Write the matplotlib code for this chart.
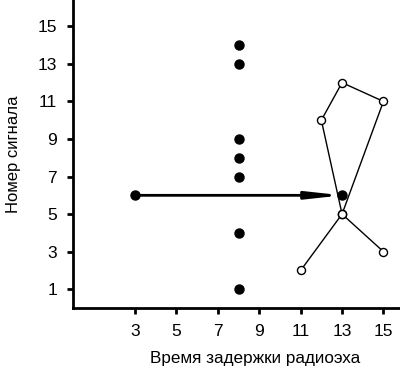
import matplotlib.pyplot as plt

plt.rcParams['font.family'] = ['Liberation Sans', 'DejaVu Sans']

# filled points (радиоэхо)
fill_x = [8, 8, 8, 8, 8, 8, 8, 3, 13]
fill_y = [1, 4, 7, 8, 9, 13, 14, 6, 6]

# open circles, two connected paths
path1_x = [11, 13, 15]
path1_y = [2, 5, 3]
path2_x = [13, 12, 13, 15, 13]
path2_y = [5, 10, 12, 11, 5]

arrow_start = (3, 6)
arrow_end = (13, 6)

xticks = [3, 5, 7, 9, 11, 13, 15]
yticks = [1, 3, 5, 7, 9, 11, 13, 15]

fig = plt.figure(figsize=(4, 3.72), dpi=100)
ax = fig.add_axes([0.1825, 0.172, 0.8175, 0.828])

ax.plot(path1_x, path1_y, color='black', lw=1, marker='o', ms=5.8,
        mfc='white', mec='black', mew=1, zorder=2)
ax.plot(path2_x, path2_y, color='black', lw=1, marker='o', ms=5.8,
        mfc='white', mec='black', mew=1, zorder=2)

ax.annotate('', xy=arrow_end, xytext=arrow_start,
            arrowprops=dict(arrowstyle='-|>,head_length=2.0,head_width=0.22',
                            color='black', lw=2, shrinkA=0, shrinkB=0),
            zorder=3)

ax.plot(fill_x, fill_y, 'o', color='black', ms=6.5, zorder=4)

ax.set_xlim(0, 15.8)
ax.set_ylim(0, 16.4)
ax.set_xticks(xticks)
ax.set_yticks(yticks)
ax.tick_params(width=2, length=4.5, labelsize=12.5, pad=7)
for s in ['top', 'right']:
    ax.spines[s].set_visible(False)
for s in ['left', 'bottom']:
    ax.spines[s].set_linewidth(2)

ax.set_xlabel('Время задержки радиоэха', fontsize=12.3)
ax.xaxis.set_label_coords(0.557, -0.14)
ax.set_ylabel('Номер сигнала', fontsize=12, labelpad=12)

fig.savefig('out.png', dpi=100)
